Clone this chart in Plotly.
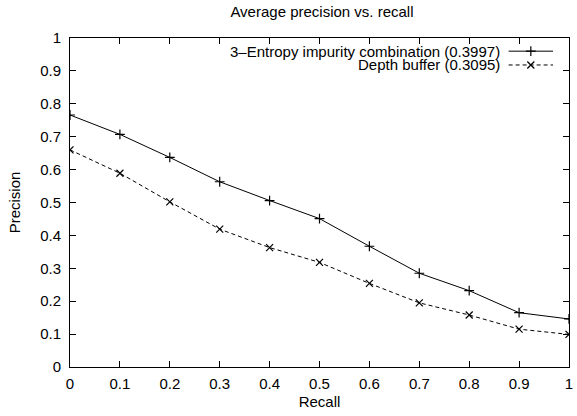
import plotly.graph_objects as go

# recall levels and average precision per method
recall = [0.0, 0.1, 0.2, 0.3, 0.4, 0.5, 0.6, 0.7, 0.8, 0.9, 1.0]
entropy_prec = [0.766, 0.707, 0.637, 0.563, 0.506, 0.451, 0.367, 0.285, 0.232, 0.165, 0.146]
depth_prec = [0.660, 0.589, 0.502, 0.419, 0.363, 0.318, 0.254, 0.195, 0.158, 0.115, 0.099]
series_names = ["3\u2013Entropy impurity combination (0.3997)", "Depth buffer (0.3095)"]

x_ticks = [0, 0.1, 0.2, 0.3, 0.4, 0.5, 0.6, 0.7, 0.8, 0.9, 1]
x_ticktext = ["0", "0.1", "0.2", "0.3", "0.4", "0.5", "0.6", "0.7", "0.8", "0.9", "1"]
y_ticks = [0, 0.1, 0.2, 0.3, 0.4, 0.5, 0.6, 0.7, 0.8, 0.9, 1]
y_ticktext = ["0", "0.1", "0.2", "0.3", "0.4", "0.5", "0.6", "0.7", "0.8", "0.9", "1"]

FONT = "Liberation Sans, Arial, sans-serif"
FS = 15

fig = go.Figure()

fig.add_trace(go.Scatter(
    x=recall, y=entropy_prec, mode="lines+markers", name=series_names[0],
    line=dict(color="black", width=1),
    marker=dict(symbol="cross-thin", size=7, line=dict(color="black", width=1.2)),
    showlegend=False,
))
fig.add_trace(go.Scatter(
    x=recall, y=depth_prec, mode="lines+markers", name=series_names[1],
    line=dict(color="black", width=1, dash="4px,3px"),
    marker=dict(symbol="x-thin", size=7, line=dict(color="black", width=1.2)),
    showlegend=False,
))

# gnuplot-style key: text right-aligned, sample to the right (drawn on a hidden 0..1 overlay axis)
key_y = [0.960, 0.918]
key_x0, key_x1, key_text_x = 0.879, 0.968, 0.865
styles = [("solid", "cross-thin"), ("4px,3px", "x-thin")]
for name, ky, (dash, sym) in zip(series_names, key_y, styles):
    fig.add_trace(go.Scatter(
        x=[key_x0, key_x1], y=[ky, ky], xaxis="x2", yaxis="y2", mode="lines",
        line=dict(color="black", width=1, dash=dash), showlegend=False, hoverinfo="skip",
    ))
    fig.add_trace(go.Scatter(
        x=[(key_x0 + key_x1) / 2], y=[ky], xaxis="x2", yaxis="y2", mode="markers",
        marker=dict(symbol=sym, size=7, line=dict(color="black", width=1.2)),
        showlegend=False, hoverinfo="skip",
    ))
    fig.add_annotation(
        x=key_text_x, y=ky, xref="x2", yref="y2", text=name, showarrow=False,
        xanchor="right", yanchor="middle", font=dict(family=FONT, size=FS, color="black"),
    )

axis_common = dict(
    showgrid=False, zeroline=False, showline=True, linecolor="black", linewidth=1,
    mirror="ticks", ticks="inside", ticklen=6, tickcolor="black", tickwidth=1,
    tickfont=dict(family=FONT, size=FS, color="black"), ticklabeloverflow="allow",
)

fig.update_layout(
    width=577, height=416,
    margin=dict(l=70, r=4, t=38, b=49),
    paper_bgcolor="white", plot_bgcolor="white",
    title=dict(text="Average precision vs. recall", x=0.558, xanchor="center",
               y=0.971, yanchor="middle", font=dict(family=FONT, size=FS, color="black")),
    xaxis=dict(range=[0, 1], tickvals=x_ticks, ticktext=x_ticktext, ticklabelstandoff=3,
               title=dict(text="Recall", standoff=5, font=dict(family=FONT, size=FS, color="black")),
               **axis_common),
    yaxis=dict(range=[0, 1], tickvals=y_ticks, ticktext=y_ticktext, ticklabelstandoff=5,
               title=dict(text="Precision", standoff=15, font=dict(family=FONT, size=FS, color="black")),
               **axis_common),
    xaxis2=dict(range=[0, 1], overlaying="x", visible=False, fixedrange=True),
    yaxis2=dict(range=[0, 1], overlaying="y", visible=False, fixedrange=True),
    showlegend=False,
)

# drop the browser's default body margin so the figure sits at the window's corner
fig.write_html("out.html", config={"displayModeBar": False},
               post_script="document.body.style.margin='0';")
